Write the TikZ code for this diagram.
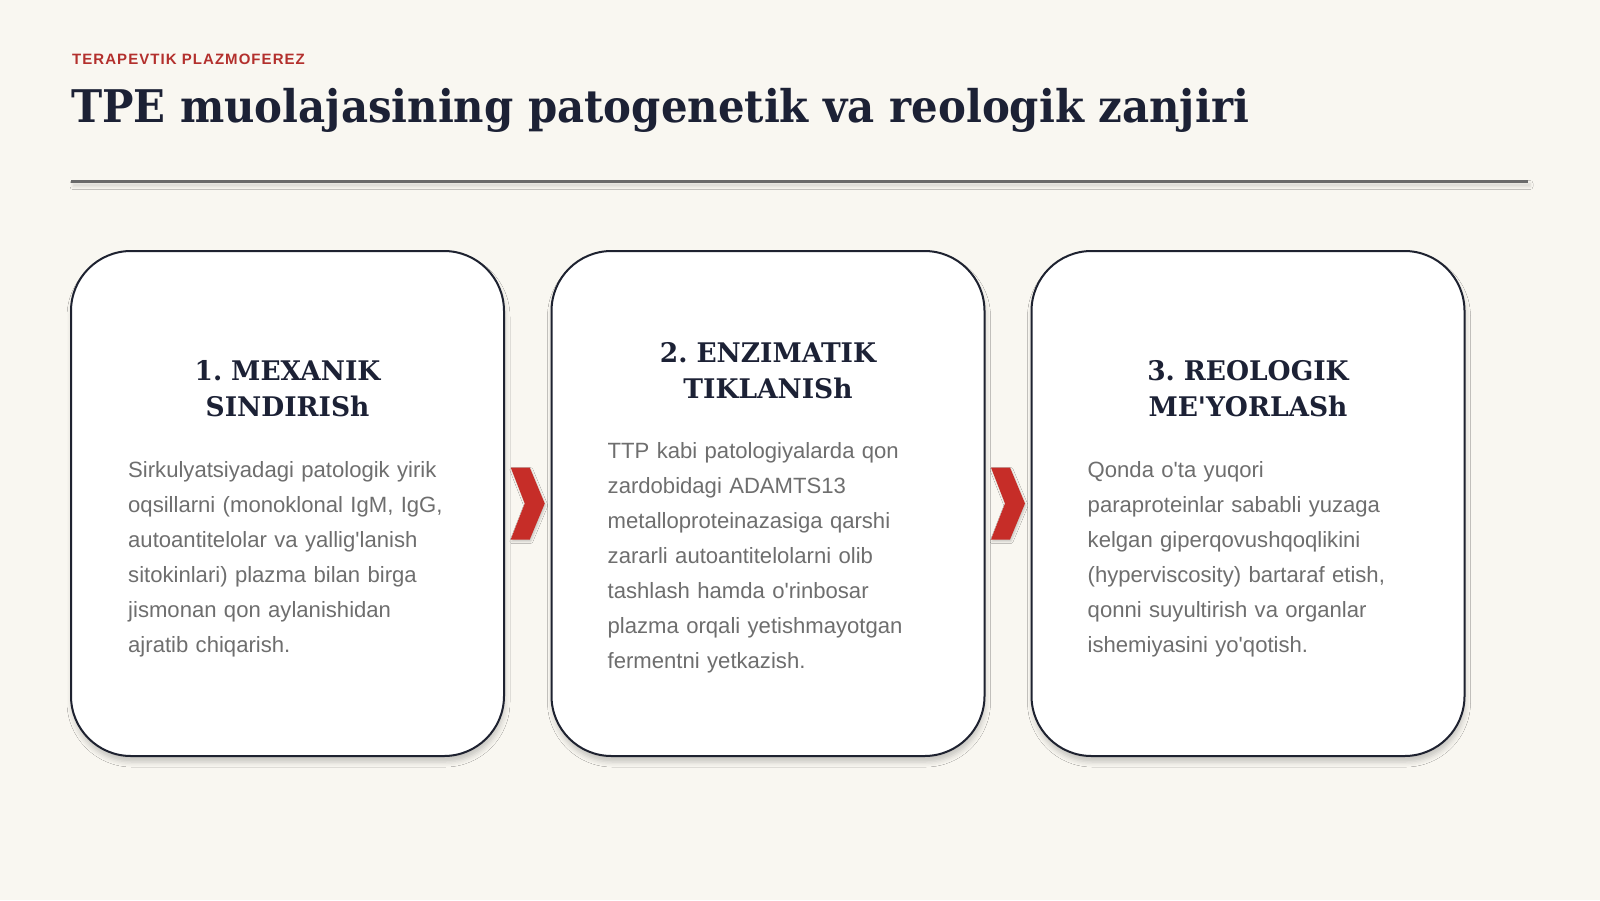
\documentclass[tikz,border=0pt]{standalone}
\usepackage{fontspec}
\usetikzlibrary{shadows.blur,calc}
\newfontfamily\titlefont[FakeStretch=0.93]{DejaVu Serif}
\newfontfamily\headfont[FakeStretch=0.98]{DejaVu Serif}
\newfontfamily\bodyfont[Ligatures=ResetAll]{Liberation Sans}
\newfontfamily\kickerfont[LetterSpace=7]{Liberation Sans}
\definecolor{bg}{HTML}{F9F7F1}
\definecolor{ink}{HTML}{1C2135}
\definecolor{kicker}{HTML}{B3302D}
\definecolor{bodygray}{HTML}{6E6E6E}
\definecolor{cardline}{HTML}{1E2230}
\definecolor{chevred}{HTML}{C62D28}
\definecolor{rulegray}{HTML}{6A6A6A}
\frenchspacing
\begin{document}
\begin{tikzpicture}[x=1pt,y=-1pt,
  card/.style={draw=cardline, line width=2pt, fill=white, rounded corners=60pt,
    minimum width=433pt, minimum height=505pt, inner sep=0pt,
    blur shadow={shadow xshift=1pt, shadow yshift=-6pt, shadow blur radius=5pt, shadow opacity=20}},
  headtxt/.style={font=\headfont\bfseries\fontsize{27}{36}\selectfont, text=ink,
    align=center, text width=400pt, inner sep=0pt, anchor=north},
  bodytxt/.style={font=\bodyfont\fontsize{22.1}{35}\selectfont, text=bodygray,
    align=left, text width=350pt, inner sep=0pt, anchor=north west},
  chev/.style={fill=chevred, blur shadow={shadow xshift=1pt, shadow yshift=-2pt, shadow blur radius=2pt, shadow opacity=20}}
]
\useasboundingbox (0,0) rectangle (1600,900);
\fill[bg] (0,0) rectangle (1600,900);

\node[anchor=base west, inner sep=0pt, text=kicker, font=\kickerfont\bfseries\fontsize{15}{18}\selectfont] (kick) at (72,64) {TERAPEVTIK PLAZMOFEREZ};
\node[anchor=base west, inner sep=0pt, text=ink, font=\titlefont\bfseries\fontsize{45}{54}\selectfont] (title) at (71,122) {TPE muolajasining patogenetik va reologik zanjiri};

\fill[rulegray, blur shadow={shadow xshift=2pt, shadow yshift=-4pt, shadow blur radius=3pt, shadow opacity=14}] (71,179.5) rectangle (1528,182.5);

\node[card] (c1) at (287.5,503.5) {};
\node[card] (c2) at (768,503.5) {};
\node[card] (c3) at (1248,503.5) {};

\node[headtxt] (h1) at ($(c1.north)+(0,110)$) {1. MEXANIK\\SINDIRISh};
\node[headtxt] (h2) at ($(c2.north)+(0,92)$) {2. ENZIMATIK\\TIKLANISh};
\node[headtxt] (h3) at ($(c3.north)+(0,110)$) {3. REOLOGIK\\ME'YORLASh};

\node[bodytxt] (b1) at ($(c1.north west)+(58,211)$) {Sirkulyatsiyadagi patologik yirik\\oqsillarni (monoklonal IgM, IgG,\\autoantitelolar va yallig'lanish\\sitokinlari) plazma bilan birga\\jismonan qon aylanishidan\\ajratib chiqarish.};
\node[bodytxt] (b2) at ($(c2.north west)+(57,192)$) {TTP kabi patologiyalarda qon\\zardobidagi ADAMTS13\\metalloproteinazasiga qarshi\\zararli autoantitelolarni olib\\tashlash hamda o'rinbosar\\plazma orqali yetishmayotgan\\fermentni yetkazish.};
\node[bodytxt] (b3) at ($(c3.north west)+(57,211)$) {Qonda o'ta yuqori\\paraproteinlar sababli yuzaga\\kelgan giperqovushqoqlikini\\(hyperviscosity) bartaraf etish,\\qonni suyultirish va organlar\\ishemiyasini yo'qotish.};

\coordinate (m1) at ($(c1.east)!0.5!(c2.west)$);
\coordinate (m2) at ($(c2.east)!0.5!(c3.west)$);
\fill[chev, shift={(m1)}] (-17,-36) -- (2,-36) -- (17,0) -- (2,36) -- (-17,36) -- (-3,0) -- cycle;
\fill[chev, shift={(m2)}] (-17,-36) -- (2,-36) -- (17,0) -- (2,36) -- (-17,36) -- (-3,0) -- cycle;
\end{tikzpicture}
\end{document}
